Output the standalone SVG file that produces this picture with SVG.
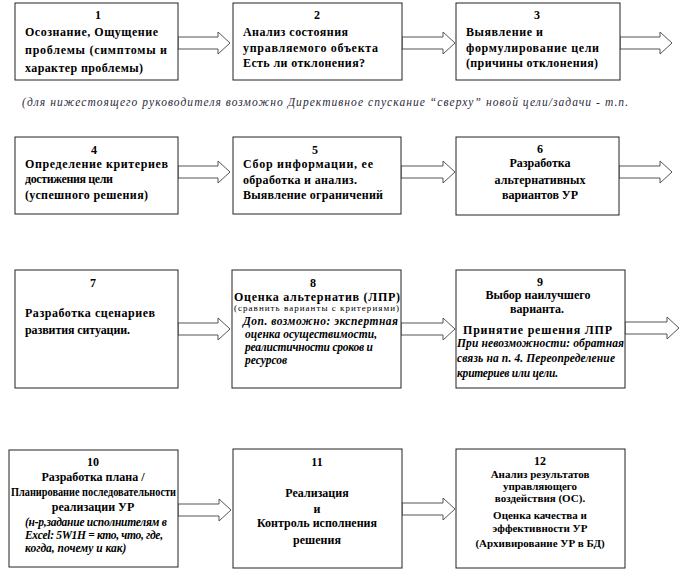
<svg xmlns="http://www.w3.org/2000/svg" width="681" height="573" viewBox="0 0 681 573">
<style>
.box{fill:#fff;stroke:#222;stroke-width:1}
.arr{fill:#fff;stroke:#555;stroke-width:1}
text{font-family:"Liberation Serif","Times New Roman","DejaVu Serif",serif;fill:#000}
.b{font-weight:bold;font-size:12px}
.c{text-anchor:middle}
.i{font-style:italic;font-weight:bold;font-size:11.5px}
.s{font-size:9px}
.t{font-size:11px}
.note{font-style:italic;font-size:11.5px;fill:#2a2a3a}
</style>
<rect width="681" height="573" fill="#fff"/>
<g id="connectors">
<polygon class="arr" points="178,37 218,37 218,32 230,43 218,54 218,49 178,49"/>
<polygon class="arr" points="402,37 443,37 443,32 455,43 443,54 443,49 402,49"/>
<polygon class="arr" points="620,37 660,37 660,32 672,43 660,54 660,49 620,49"/>
<polygon class="arr" points="178,166 218,166 218,161 230,172 218,183 218,178 178,178"/>
<polygon class="arr" points="401,166 443,166 443,161 455,172 443,183 443,178 401,178"/>
<polygon class="arr" points="619,166 660,166 660,161 672,172 660,183 660,178 619,178"/>
<polygon class="arr" points="178,323 218,323 218,318 230,329 218,340 218,335 178,335"/>
<polygon class="arr" points="401,323 443,323 443,318 455,329 443,340 443,335 401,335"/>
<polygon class="arr" points="625,322 667,322 667,317 679,328 667,339 667,334 625,334"/>
<polygon class="arr" points="178,504 219,504 219,499 231,510 219,521 219,516 178,516"/>
<polygon class="arr" points="402,503 443,503 443,498 455,509 443,520 443,515 402,515"/>
</g>
<g id="n1">
<rect class="box" x="15" y="3" width="163" height="77"/>
<text class="b c" x="98" y="19">1</text>
<text class="b" x="25" y="36" textLength="133" lengthAdjust="spacing">Осознание,  Ощущение</text>
<text class="b" x="25" y="54" textLength="142" lengthAdjust="spacing">проблемы  (симптомы  и</text>
<text class="b" x="25" y="72" textLength="118" lengthAdjust="spacing">характер  проблемы)</text>
</g>
<g id="n2">
<rect class="box" x="233" y="3" width="169" height="77"/>
<text class="b c" x="317" y="19">2</text>
<text class="b" x="243" y="36" textLength="105" lengthAdjust="spacing">Анализ  состояния</text>
<text class="b" x="243" y="52" textLength="135" lengthAdjust="spacing">управляемого  объекта</text>
<text class="b" x="243" y="67" textLength="122" lengthAdjust="spacing">Есть  ли отклонения?</text>
</g>
<g id="n3">
<rect class="box" x="456" y="3" width="164" height="77"/>
<text class="b c" x="537" y="19">3</text>
<text class="b" x="466" y="36" textLength="77" lengthAdjust="spacing">Выявление  и</text>
<text class="b" x="466" y="52" textLength="133" lengthAdjust="spacing">формулирование  цели</text>
<text class="b" x="466" y="67" textLength="132" lengthAdjust="spacing">(причины  отклонения)</text>
</g>
<text class="note" x="22" y="106" textLength="606" lengthAdjust="spacing">(для нижестоящего руководителя возможно  Директивное спускание “сверху” новой цели/задачи - т.п.</text>
<g id="n4">
<rect class="box" x="15" y="137" width="163" height="77"/>
<text class="b c" x="94" y="154">4</text>
<text class="b" x="25" y="168" textLength="143" lengthAdjust="spacing">Определение  критериев</text>
<text class="b" x="25" y="183" textLength="88" lengthAdjust="spacing">достижения  цели</text>
<text class="b" x="25" y="199" textLength="123" lengthAdjust="spacing">(успешного  решения)</text>
</g>
<g id="n5">
<rect class="box" x="233" y="137" width="168" height="77"/>
<text class="b c" x="315" y="154">5</text>
<text class="b" x="243" y="168" textLength="130" lengthAdjust="spacing">Сбор  информации,  ее</text>
<text class="b" x="243" y="184" textLength="114" lengthAdjust="spacing">обработка  и анализ.</text>
<text class="b" x="243" y="199" textLength="140" lengthAdjust="spacing">Выявление  ограничений</text>
</g>
<g id="n6">
<rect class="box" x="456" y="137" width="163" height="78"/>
<text class="b c" x="540" y="153">6</text>
<text class="b c" x="540" y="167">Разработка</text>
<text class="b c" x="540" y="184">альтернативных</text>
<text class="b c" x="540" y="199">вариантов  УР</text>
</g>
<g id="n7">
<rect class="box" x="15" y="270" width="163" height="118"/>
<text class="b c" x="93" y="287">7</text>
<text class="b" x="25" y="317" textLength="130" lengthAdjust="spacing">Разработка  сценариев</text>
<text class="b" x="25" y="334" textLength="105" lengthAdjust="spacing">развития  ситуации.</text>
</g>
<g id="n8">
<rect class="box" x="232" y="270" width="169" height="118"/>
<text class="b c" x="313" y="287">8</text>
<text class="b" x="234" y="301" textLength="166" lengthAdjust="spacing">Оценка  альтернатив  (ЛПР)</text>
<text class="s" x="234" y="311" textLength="165" lengthAdjust="spacing">(сравнить варианты с критериями)</text>
<text class="i" x="243" y="325" textLength="155" lengthAdjust="spacing">Доп.  возможно: экспертная</text>
<text class="i" x="245" y="338" textLength="132" lengthAdjust="spacing">оценка осуществимости,</text>
<text class="i" x="245" y="351" textLength="128" lengthAdjust="spacing">реалистичности сроков и</text>
<text class="i" x="245" y="364">ресурсов</text>
</g>
<g id="n9">
<rect class="box" x="456" y="270" width="169" height="118"/>
<text class="b c" x="540" y="286">9</text>
<text class="b c" x="538" y="299">Выбор  наилучшего</text>
<text class="b c" x="537" y="313">варианта.</text>
<text class="b" x="463" y="334" textLength="149" lengthAdjust="spacing">Принятие  решения  ЛПР</text>
<text class="i" x="457" y="347" textLength="167" lengthAdjust="spacing">При невозможности: обратная</text>
<text class="i" x="457" y="362" textLength="158" lengthAdjust="spacing">связь на п. 4. Переопределение</text>
<text class="i" x="457" y="377" textLength="101" lengthAdjust="spacing">критериев или цели.</text>
</g>
<g id="n10">
<rect class="box" x="9" y="450" width="169" height="117"/>
<text class="b c" x="93" y="466">10</text>
<text class="b c" x="93" y="481">Разработка  плана  /</text>
<text class="b" x="11" y="496" textLength="165" lengthAdjust="spacingAndGlyphs">Планирование последовательности</text>
<text class="b c" x="93" y="511">реализации УР</text>
<text class="i" x="25" y="526" textLength="142" lengthAdjust="spacing">(н-р,задание исполнителям  в</text>
<text class="i" x="25" y="539" textLength="138" lengthAdjust="spacing">Excel:  5W1H = кто, что, где,</text>
<text class="i" x="25" y="552">когда, почему и  как)</text>
</g>
<g id="n11">
<rect class="box" x="233" y="449" width="169" height="119"/>
<text class="b c" x="317" y="466">11</text>
<text class="b c" x="317" y="497">Реализация</text>
<text class="b c" x="317" y="513">и</text>
<text class="b c" x="317" y="527">Контроль   исполнения</text>
<text class="b c" x="317" y="544">решения</text>
</g>
<g id="n12">
<rect class="box" x="456" y="449" width="169" height="119"/>
<text class="b c" x="540" y="465">12</text>
<text class="b c t" x="540" y="478">Анализ  результатов</text>
<text class="b c t" x="540" y="490">управляющего</text>
<text class="b c t" x="540" y="502">воздействия  (ОС).</text>
<text class="b c t" x="540" y="519">Оценка качества и</text>
<text class="b c t" x="540" y="532">эффективности УР</text>
<text class="b c t" x="540" y="547">(Архивирование  УР в БД)</text>
</g>
</svg>
